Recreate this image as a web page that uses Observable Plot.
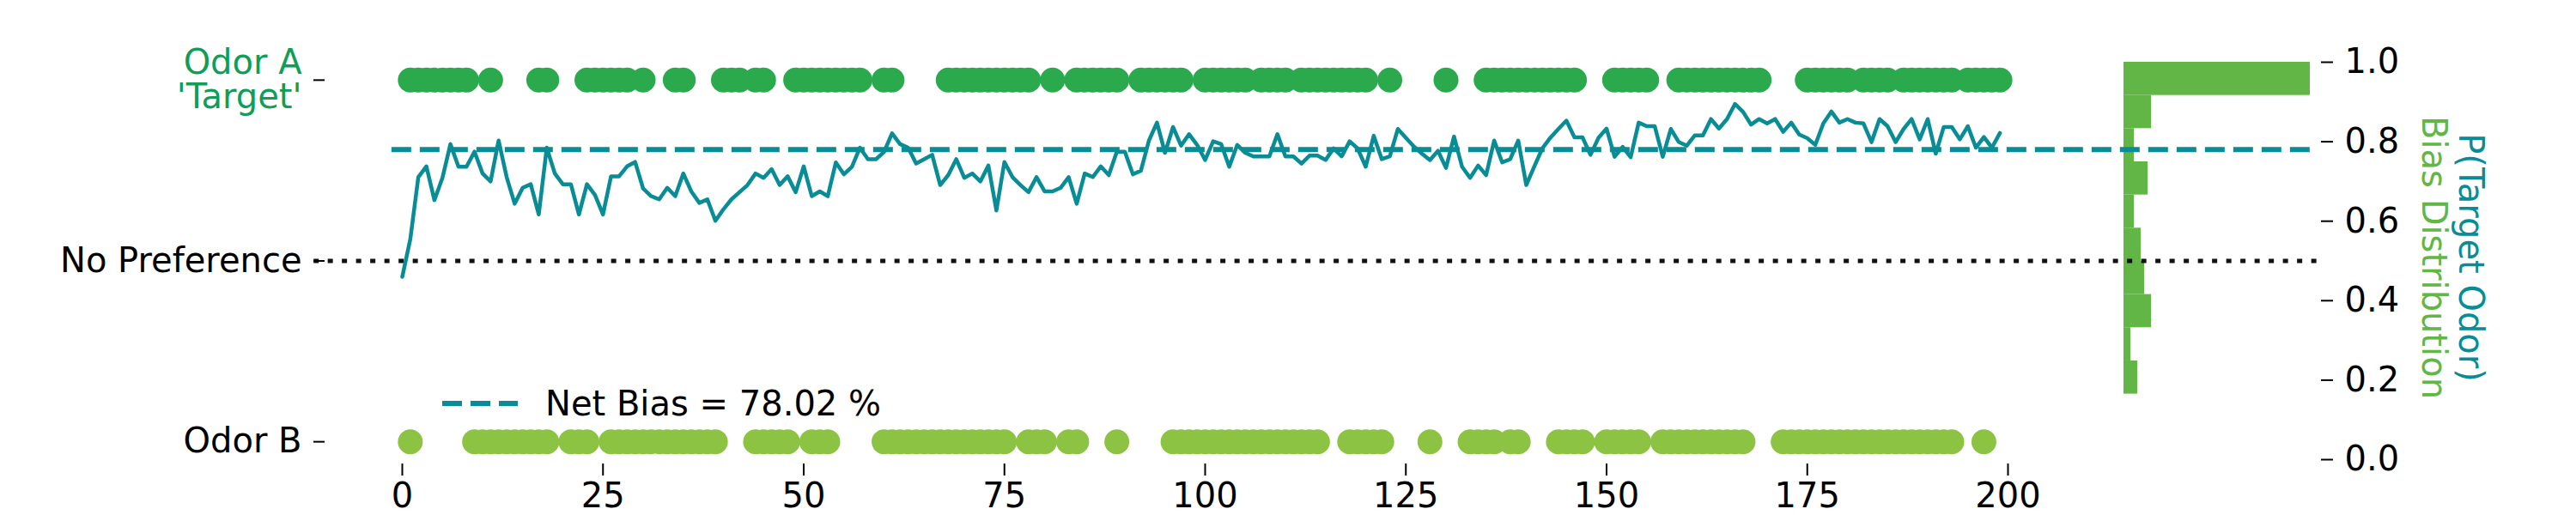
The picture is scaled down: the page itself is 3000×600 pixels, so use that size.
<!DOCTYPE html>
<html><head><meta charset="utf-8">
<script src="https://cdn.jsdelivr.net/npm/d3@7"></script>
<script src="https://cdn.jsdelivr.net/npm/@observablehq/plot@0.6"></script>
<style>
body{margin:0;background:#fff;font-family:"DejaVu Sans",sans-serif;}
#wrap{position:relative;width:3000px;height:600px;}
#wrap svg{position:absolute;left:0;top:0;}
.lab{position:absolute;white-space:nowrap;font-size:40px;transform-origin:center center;}
</style></head><body>
<div id="wrap"></div>
<script>
// P(Target Odor) running estimate per trial
const bias = [0.46,0.555,0.711,0.738,0.653,0.709,0.794,0.737,0.737,0.775,0.720,0.700,0.803,0.711,0.644,0.684,0.693,0.617,0.785,0.720,
0.693,0.693,0.617,0.693,0.666,0.617,0.713,0.713,0.738,0.749,0.682,0.663,0.655,0.684,0.663,0.720,0.675,0.646,0.655,0.601,
0.630,0.655,0.673,0.691,0.720,0.709,0.731,0.691,0.713,0.673,0.738,0.663,0.675,0.663,0.748,0.718,0.737,0.785,0.756,0.756,
0.774,0.821,0.794,0.785,0.745,0.756,0.767,0.691,0.716,0.756,0.709,0.720,0.700,0.740,0.627,0.749,0.711,0.691,0.673,0.711,
0.675,0.675,0.684,0.711,0.644,0.720,0.711,0.738,0.716,0.775,0.775,0.718,0.727,0.803,0.848,0.772,0.837,0.790,0.819,0.792,
0.754,0.801,0.794,0.737,0.792,0.772,0.763,0.763,0.763,0.819,0.763,0.763,0.745,0.765,0.765,0.754,0.783,0.763,0.801,0.783,
0.737,0.815,0.756,0.763,0.832,0.810,0.788,0.770,0.754,0.777,0.734,0.813,0.737,0.709,0.740,0.716,0.803,0.748,0.756,0.803,
0.691,0.738,0.783,0.810,0.832,0.853,0.811,0.811,0.767,0.810,0.833,0.762,0.787,0.761,0.848,0.839,0.839,0.762,0.832,0.799,
0.790,0.816,0.816,0.857,0.833,0.857,0.895,0.875,0.843,0.857,0.846,0.857,0.825,0.848,0.818,0.809,0.792,0.846,0.876,0.848,
0.857,0.848,0.846,0.799,0.857,0.839,0.799,0.832,0.857,0.806,0.857,0.770,0.837,0.837,0.806,0.839,0.785,0.812,0.785,0.822];
const netBias = 0.7802;
const noPref = 0.5;
// trials on which each odor was chosen
const odorATrials = [1,2,3,4,5,6,7,8,11,17,18,23,24,25,26,27,28,30,34,35,40,41,42,44,45,49,50,51,52,53,54,55,56,57,60,61,
68,69,70,71,72,73,74,75,76,77,78,81,84,85,86,87,88,89,92,93,94,95,96,97,100,101,102,103,104,105,107,108,109,110,112,113,114,115,116,117,118,119,120,
123,130,135,136,137,138,139,140,141,142,143,144,145,146,151,152,153,154,155,159,160,161,162,163,164,165,166,167,168,169,
175,176,177,178,179,180,182,183,184,185,187,188,189,190,191,192,193,195,196,197,198,199];
const odorBTrials = [1,9,10,11,12,13,14,15,16,17,18,21,22,23,26,27,28,29,30,31,32,33,34,35,36,37,38,39,44,45,46,47,48,51,52,53,
60,61,62,63,64,65,66,67,68,69,70,71,72,73,74,75,78,79,80,83,84,89,96,97,98,99,100,101,102,103,104,105,106,107,108,109,110,111,112,113,114,
118,119,120,121,122,128,133,134,135,136,138,139,144,145,146,147,150,151,152,153,154,157,158,159,160,161,162,163,164,165,166,167,
172,173,174,175,176,177,178,179,180,181,182,183,184,185,186,187,188,189,190,191,192,193,197];
const rowA = 0.955, rowB = 0.045;
// histogram of bias values
const histEdges = [1.0,0.9165,0.833,0.7495,0.666,0.5825,0.499,0.4155,0.332,0.2485,0.165];
const histCounts = [54,8,3,7,3,5,6,8,2,4];
const xTicks = [0,25,50,75,100,125,150,175,200];
const rightTicks = [0,0.2,0.4,0.6,0.8,1.0];
const lineExtent = [-1.3,238.5];
const dotExtent = [-11,239];

const teal = "#088c96", greenA = "#2aaa4c", greenB = "#8cc343", histG = "#62b646";
const font = "DejaVu Sans";
const W = 3000, H = 600, mT = 72, mB = 65, FS = 40;

const histData = histCounts.map((c,i)=>({y1:histEdges[i+1],y2:histEdges[i],c}));
const hist = Plot.plot({
  width:W,height:H,marginTop:mT,marginBottom:mB,marginLeft:2473,marginRight:W-2690,
  style:{background:"transparent",fontFamily:font},
  x:{domain:[0,54],axis:null}, y:{domain:[0,1],axis:null},
  marks:[Plot.rectX(histData,{x:"c",y1:"y1",y2:"y2",fill:histG,inset:0})]
});

const main = Plot.plot({
  width:W,height:H,marginTop:mT,marginBottom:mB,marginLeft:468,marginRight:W-2338,
  style:{background:"transparent",fontFamily:font,fontSize:FS+"px",color:"#000"},
  x:{domain:[0,200]}, y:{domain:[0,1]},
  marks:[
    Plot.ruleY([noPref],{x1:dotExtent[0],x2:dotExtent[1],stroke:"#111",strokeWidth:5,strokeDasharray:"6,10.5"}),
    Plot.ruleY([netBias],{x1:lineExtent[0],x2:lineExtent[1],stroke:teal,strokeWidth:6,strokeDasharray:"23,10"}),
    Plot.line(bias,{x:(d,i)=>i,y:d=>d,stroke:teal,strokeWidth:4.5}),
    Plot.dot(odorATrials,{x:d=>d,y:()=>rowA,r:14.5,fill:greenA,stroke:"none"}),
    Plot.dot(odorBTrials,{x:d=>d,y:()=>rowB,r:14.5,fill:greenB,stroke:"none"}),
    Plot.axisX({ticks:xTicks,tickFormat:d=>String(d),tickSize:14,tickPadding:8,dy:5,stroke:"#000",strokeWidth:2,fontSize:FS,label:null}),
    Plot.axisY({anchor:"right",ticks:rightTicks,tickFormat:d=>d.toFixed(1),tickSize:14,tickPadding:14,dx:364,strokeWidth:2,fontSize:FS,label:null}),
    Plot.axisY({anchor:"left",ticks:[rowB,noPref],tickFormat:d=>d===noPref?"No Preference":"Odor B",tickSize:13,tickPadding:14,dx:-90,strokeWidth:2,fontSize:FS,label:null}),
    Plot.axisY({anchor:"left",ticks:[rowA],tickFormat:()=>"Odor A\n'Target'",tickSize:13,tickPadding:14,dx:-90,strokeWidth:2,fontSize:FS,fill:"#0f9d58",label:null})
  ]
});
const wrap = document.getElementById("wrap");
wrap.appendChild(hist); wrap.appendChild(main);

// legend
const leg = document.createElement("div");
leg.style.cssText="position:absolute;left:515px;top:447px;display:flex;align-items:center;font-size:40px;";
leg.innerHTML=`<svg width="88" height="20" style="position:static"><line x1="0" x2="88" y1="10" y2="10" stroke="${teal}" stroke-width="6" stroke-dasharray="23,10"/></svg><span style="margin-left:32px">Net Bias = ${(netBias*100).toFixed(2)} %</span>`;
wrap.appendChild(leg);

// right-side axis titles
function vlab(text,color,cx,cy){
  const d=document.createElement("div");d.className="lab";d.textContent=text;d.style.color=color;
  wrap.appendChild(d);
  const w=d.offsetWidth,h=d.offsetHeight;
  d.style.left=(cx-w/2)+"px";d.style.top=(cy-h/2)+"px";d.style.transform="rotate(90deg)";
}
vlab("Bias Distribution",histG,2835,300);
vlab("P(Target Odor)",teal,2878,300);
</script></body></html>
